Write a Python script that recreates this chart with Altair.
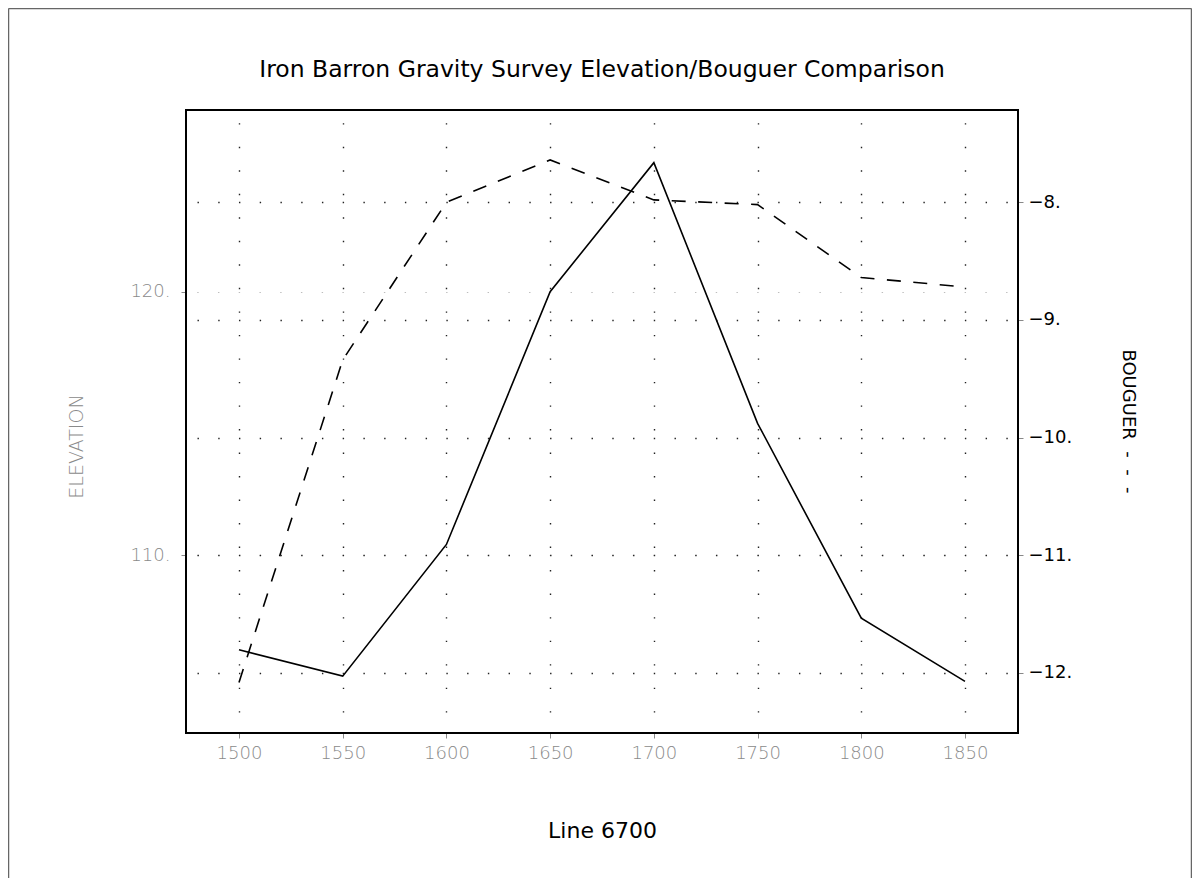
import altair as alt
import pandas as pd

# ---- data ----
LINE_POS = [1500, 1550, 1600, 1650, 1700, 1750, 1800, 1850]
ELEVATION = [106.4, 105.4, 110.4, 120.0, 124.9, 115.0, 107.6, 105.2]
BOUGUER = [-12.08, -9.34, -8.00, -7.64, -7.98, -8.02, -8.64, -8.72]

X_TICKS = [1500, 1550, 1600, 1650, 1700, 1750, 1800, 1850]
ELEV_TICKS = [110, 120]
BOUG_TICKS = [-12, -11, -10, -9, -8]

TITLE = "Iron Barron Gravity Survey Elevation/Bouguer Comparison"
X_TITLE = "Line 6700"
ELEV_TITLE = "ELEVATION"
BOUG_TITLE = "BOUGUER\u00a0\u00a0-\u00a0\u00a0-\u00a0\u00a0-"

df = pd.DataFrame({"line": LINE_POS, "elevation": ELEVATION, "bouguer": BOUGUER})

FONT = "DejaVu Sans"
GRAY = "#8a8a8a"
W, H = 832, 623

x_enc = alt.X(
    "line:Q",
    scale=alt.Scale(domain=[1474.45, 1875.55], nice=False, zero=False),
    axis=alt.Axis(
        values=X_TICKS, format="d", title=X_TITLE,
        labelColor=GRAY, labelFontSize=18, labelFont=FONT, labelFontWeight=300,
        labelPadding=6,
        grid=True, gridColor="#222", gridWidth=1.4, gridDash=[1.4, 22.12], gridDashOffset=10.8,
        titleFont=FONT, titleFontSize=22, titleFontWeight="normal", titleColor="black",
        titleX=W / 2, titleY=104, titleBaseline="alphabetic", titleAlign="center",
    ),
)

elev = alt.Chart(df).mark_line(color="black", strokeWidth=1.6).encode(
    x=x_enc,
    y=alt.Y(
        "elevation:Q",
        scale=alt.Scale(domain=[103.24, 126.9], nice=False, zero=False),
        axis=alt.Axis(
            orient="left", values=ELEV_TICKS, labelExpr="datum.label + '.'",
            labelColor=GRAY, labelFontSize=18, labelFont=FONT, labelFontWeight=300,
            labelPadding=11,
            grid=True, gridColor="#bdbdbd", gridWidth=1.2, gridDash=[1.4, 19.34], gridDashOffset=10.0,
            title=ELEV_TITLE, titleColor=GRAY, titleFont=FONT, titleFontSize=19,
            titleFontWeight=300, titleAngle=270, titleX=-110, titleY=336,
            titleAlign="center", titleBaseline="middle",
        ),
    ),
)

boug = alt.Chart(df).mark_line(color="black", strokeWidth=1.6, strokeDash=[14, 12.5]).encode(
    x=x_enc,
    y=alt.Y(
        "bouguer:Q",
        scale=alt.Scale(domain=[-12.51, -7.216], nice=False, zero=False),
        axis=alt.Axis(
            orient="right", values=BOUG_TICKS, labelExpr="datum.label + '.'",
            labelColor="black", labelFontSize=18, labelFont=FONT,
            labelPadding=5,
            grid=True, gridColor="#222", gridWidth=1.4, gridDash=[1.4, 19.34], gridDashOffset=10.0,
            title=BOUG_TITLE, titleColor="black", titleFont=FONT, titleFontSize=18,
            titleFontWeight="normal", titleAngle=90, titleX=109, titleY=311,
            titleAlign="center", titleBaseline="middle",
        ),
    ),
)

one = alt.Data(values=[{}])

title_mark = alt.Chart(one).mark_text(
    text=TITLE, font=FONT, fontSize=23.5, color="black", align="center", baseline="alphabetic"
).encode(x=alt.value(W / 2), y=alt.value(-33))

# outer page frame
frame_style = dict(color="#666", strokeWidth=1.5)
frame_top = alt.Chart(one).mark_rule(**frame_style).encode(
    x=alt.value(-177.5), x2=alt.value(1005.5), y=alt.value(-101.5), y2=alt.value(-101.5))
frame_left = alt.Chart(one).mark_rule(**frame_style).encode(
    x=alt.value(-177.5), x2=alt.value(-177.5), y=alt.value(-101.5), y2=alt.value(770))
frame_right = alt.Chart(one).mark_rule(**frame_style).encode(
    x=alt.value(1005.5), x2=alt.value(1005.5), y=alt.value(-101.5), y2=alt.value(770))

# plot-area box
box_style = dict(color="black", strokeWidth=2)
box_top = alt.Chart(one).mark_rule(**box_style).encode(
    x=alt.value(-1), x2=alt.value(W + 1), y=alt.value(0), y2=alt.value(0))
box_bottom = alt.Chart(one).mark_rule(**box_style).encode(
    x=alt.value(-1), x2=alt.value(W + 1), y=alt.value(H), y2=alt.value(H))
box_left = alt.Chart(one).mark_rule(**box_style).encode(
    x=alt.value(0), x2=alt.value(0), y=alt.value(-1), y2=alt.value(H + 1))
box_right = alt.Chart(one).mark_rule(**box_style).encode(
    x=alt.value(W), x2=alt.value(W), y=alt.value(-1), y2=alt.value(H + 1))

chart = (
    alt.layer(elev, boug, title_mark, frame_top, frame_left, frame_right,
              box_top, box_bottom, box_left, box_right)
    .resolve_scale(y="independent")
    .properties(
        width=W, height=H,
        autosize=alt.AutoSizeParams(type="none"),
        padding={"left": 178, "top": 102, "right": 174, "bottom": 145},
    )
    .configure_view(stroke=None)
    .configure_axis(domain=False, ticks=False, tickSize=0)
    .configure(background="white")
)

chart.save("out.html", embed_options={"renderer": "svg", "actions": False})
